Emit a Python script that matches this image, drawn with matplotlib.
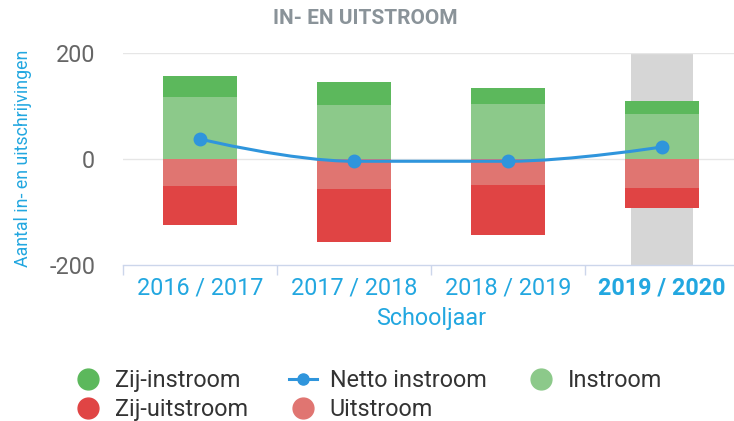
import numpy as np
import matplotlib
matplotlib.use("Agg")
import matplotlib.pyplot as plt
from matplotlib.lines import Line2D
from matplotlib.path import Path
from matplotlib.patches import PathPatch

plt.rcParams['font.family'] = ['Roboto', 'DejaVu Sans']

categories = ["2016 / 2017", "2017 / 2018", "2018 / 2019", "2019 / 2020"]
instroom = [117, 102, 104, 86]
zij_instroom = [41, 44, 31, 24]
uitstroom = [-50, -56, -49, -54]
zij_uitstroom = [-75, -101, -94, -38]
netto = [38, -4, -4, 23]
yticks = [-200, 0, 200]

C_ZIJIN = '#5cb85c'
C_IN = '#8cc98a'
C_UIT = '#e07571'
C_ZIJUIT = '#e04444'
C_NET = '#2f95dc'
C_BLUE = '#22a7e0'

W, H = 734, 421
fig = plt.figure(figsize=(W / 100, H / 100), dpi=100)
ax_l, ax_r, ax_t, ax_b = 123, 739, 53.3, 265
ax = fig.add_axes([ax_l / W, 1 - ax_b / H, (ax_r - ax_l) / W, (ax_b - ax_t) / H])

x = np.arange(len(categories))
ax.set_xlim(-0.5, len(categories) - 0.5)
ax.set_ylim(-200, 200)

# highlight current year
ax.axvspan(3 - 0.2, 3 + 0.2, color='#d6d6d6', zorder=0, lw=0)

for v in yticks[1:]:
    ax.axhline(v, color='#e6e6e6', lw=1, zorder=0.5)

bw = 0.48
ax.bar(x, instroom, bw, color=C_IN, zorder=2, lw=0)
ax.bar(x, zij_instroom, bw, bottom=instroom, color=C_ZIJIN, zorder=2, lw=0)
ax.bar(x, uitstroom, bw, color=C_UIT, zorder=2, lw=0)
ax.bar(x, zij_uitstroom, bw, bottom=uitstroom, color=C_ZIJUIT, zorder=2, lw=0)


def hc_spline(xs, ys, smoothing=1.5):
    xs = [float(v) for v in xs]
    ys = [float(v) for v in ys]
    n = len(xs)
    denom = smoothing + 1
    verts = [(xs[0], ys[0])]
    codes = [Path.MOVETO]
    last_rc = (xs[0], ys[0])
    for i in range(1, n):
        px, py = xs[i], ys[i]
        if i < n - 1:
            lx, ly = xs[i - 1], ys[i - 1]
            nx, ny = xs[i + 1], ys[i + 1]
            lcx = (smoothing * px + lx) / denom
            lcy = (smoothing * py + ly) / denom
            rcx = (smoothing * px + nx) / denom
            rcy = (smoothing * py + ny) / denom
            if rcx != lcx:
                corr = ((rcy - lcy) * (rcx - px)) / (rcx - lcx) + py - rcy
                lcy += corr
                rcy += corr
            if lcy > ly and lcy > py:
                lcy = max(ly, py); rcy = 2 * py - lcy
            elif lcy < ly and lcy < py:
                lcy = min(ly, py); rcy = 2 * py - lcy
            if rcy > ny and rcy > py:
                rcy = max(ny, py); lcy = 2 * py - rcy
            elif rcy < ny and rcy < py:
                rcy = min(ny, py); lcy = 2 * py - rcy
            verts += [last_rc, (lcx, lcy), (px, py)]
            last_rc = (rcx, rcy)
        else:
            verts += [last_rc, (px, py), (px, py)]
        codes += [Path.CURVE4] * 3
    return Path(verts, codes)


ax.add_patch(PathPatch(hc_spline(x, netto), fill=False, edgecolor=C_NET, lw=2.2, zorder=3))
ax.plot(x, netto, ls='none', marker='o', ms=9, color=C_NET, zorder=4)

for s in ['top', 'right', 'left']:
    ax.spines[s].set_visible(False)
ax.spines['bottom'].set_color('#ccd6eb')
ax.spines['bottom'].set_linewidth(1)

ax.set_xticks(np.arange(-0.5, len(categories), 1.0))
ax.set_xticklabels([])
ax.tick_params(axis='x', which='major', length=7.5, color='#ccd6eb', width=1)
ax.set_xticks(x, minor=True)
ax.set_xticklabels(categories, minor=True)
ax.tick_params(axis='x', which='minor', length=0, pad=8.5, labelsize=16.8, labelcolor=C_BLUE)
for i, lab in enumerate(ax.get_xticklabels(minor=True)):
    if i == len(categories) - 1:
        lab.set_fontweight('bold')

ax.set_yticks(yticks)
ax.set_yticklabels([str(v) for v in yticks])
ax.tick_params(axis='y', length=0, pad=20, labelsize=16.8, labelcolor='#666666')

fig.text(365 / W, 1 - 18 / H, "IN- EN UITSTROOM", ha='center', va='center',
         fontsize=15, fontweight='bold', color='#8a9399')
fig.text(23 / W, 1 - 158 / H, "Aantal in- en uitschrijvingen", ha='center', va='center',
         rotation=90, fontsize=12.8, color=C_BLUE)
fig.text(431 / W, 1 - 318 / H, "Schooljaar", ha='center', va='center',
         fontsize=16.8, color=C_BLUE)

handles = [
    Line2D([], [], ls='none', marker='o', ms=15, color=C_ZIJIN),
    Line2D([], [], ls='none', marker='o', ms=15, color=C_ZIJUIT),
    Line2D([], [], ls='-', lw=2.2, marker='o', ms=8, color=C_NET),
    Line2D([], [], ls='none', marker='o', ms=15, color=C_UIT),
    Line2D([], [], ls='none', marker='o', ms=15, color=C_IN),
]
labels = ["Zij-instroom", "Zij-uitstroom", "Netto instroom", "Uitstroom", "Instroom"]
leg = fig.legend(handles, labels, ncol=3, loc='upper left',
                 bbox_to_anchor=(74 / W, 1 - 369 / H), frameon=False,
                 fontsize=16.8, labelcolor='#333333', handlelength=1.2,
                 handletextpad=0.55, columnspacing=1.75, labelspacing=0.26,
                 borderpad=0, borderaxespad=0)

fig.savefig("out.png", dpi=100)
